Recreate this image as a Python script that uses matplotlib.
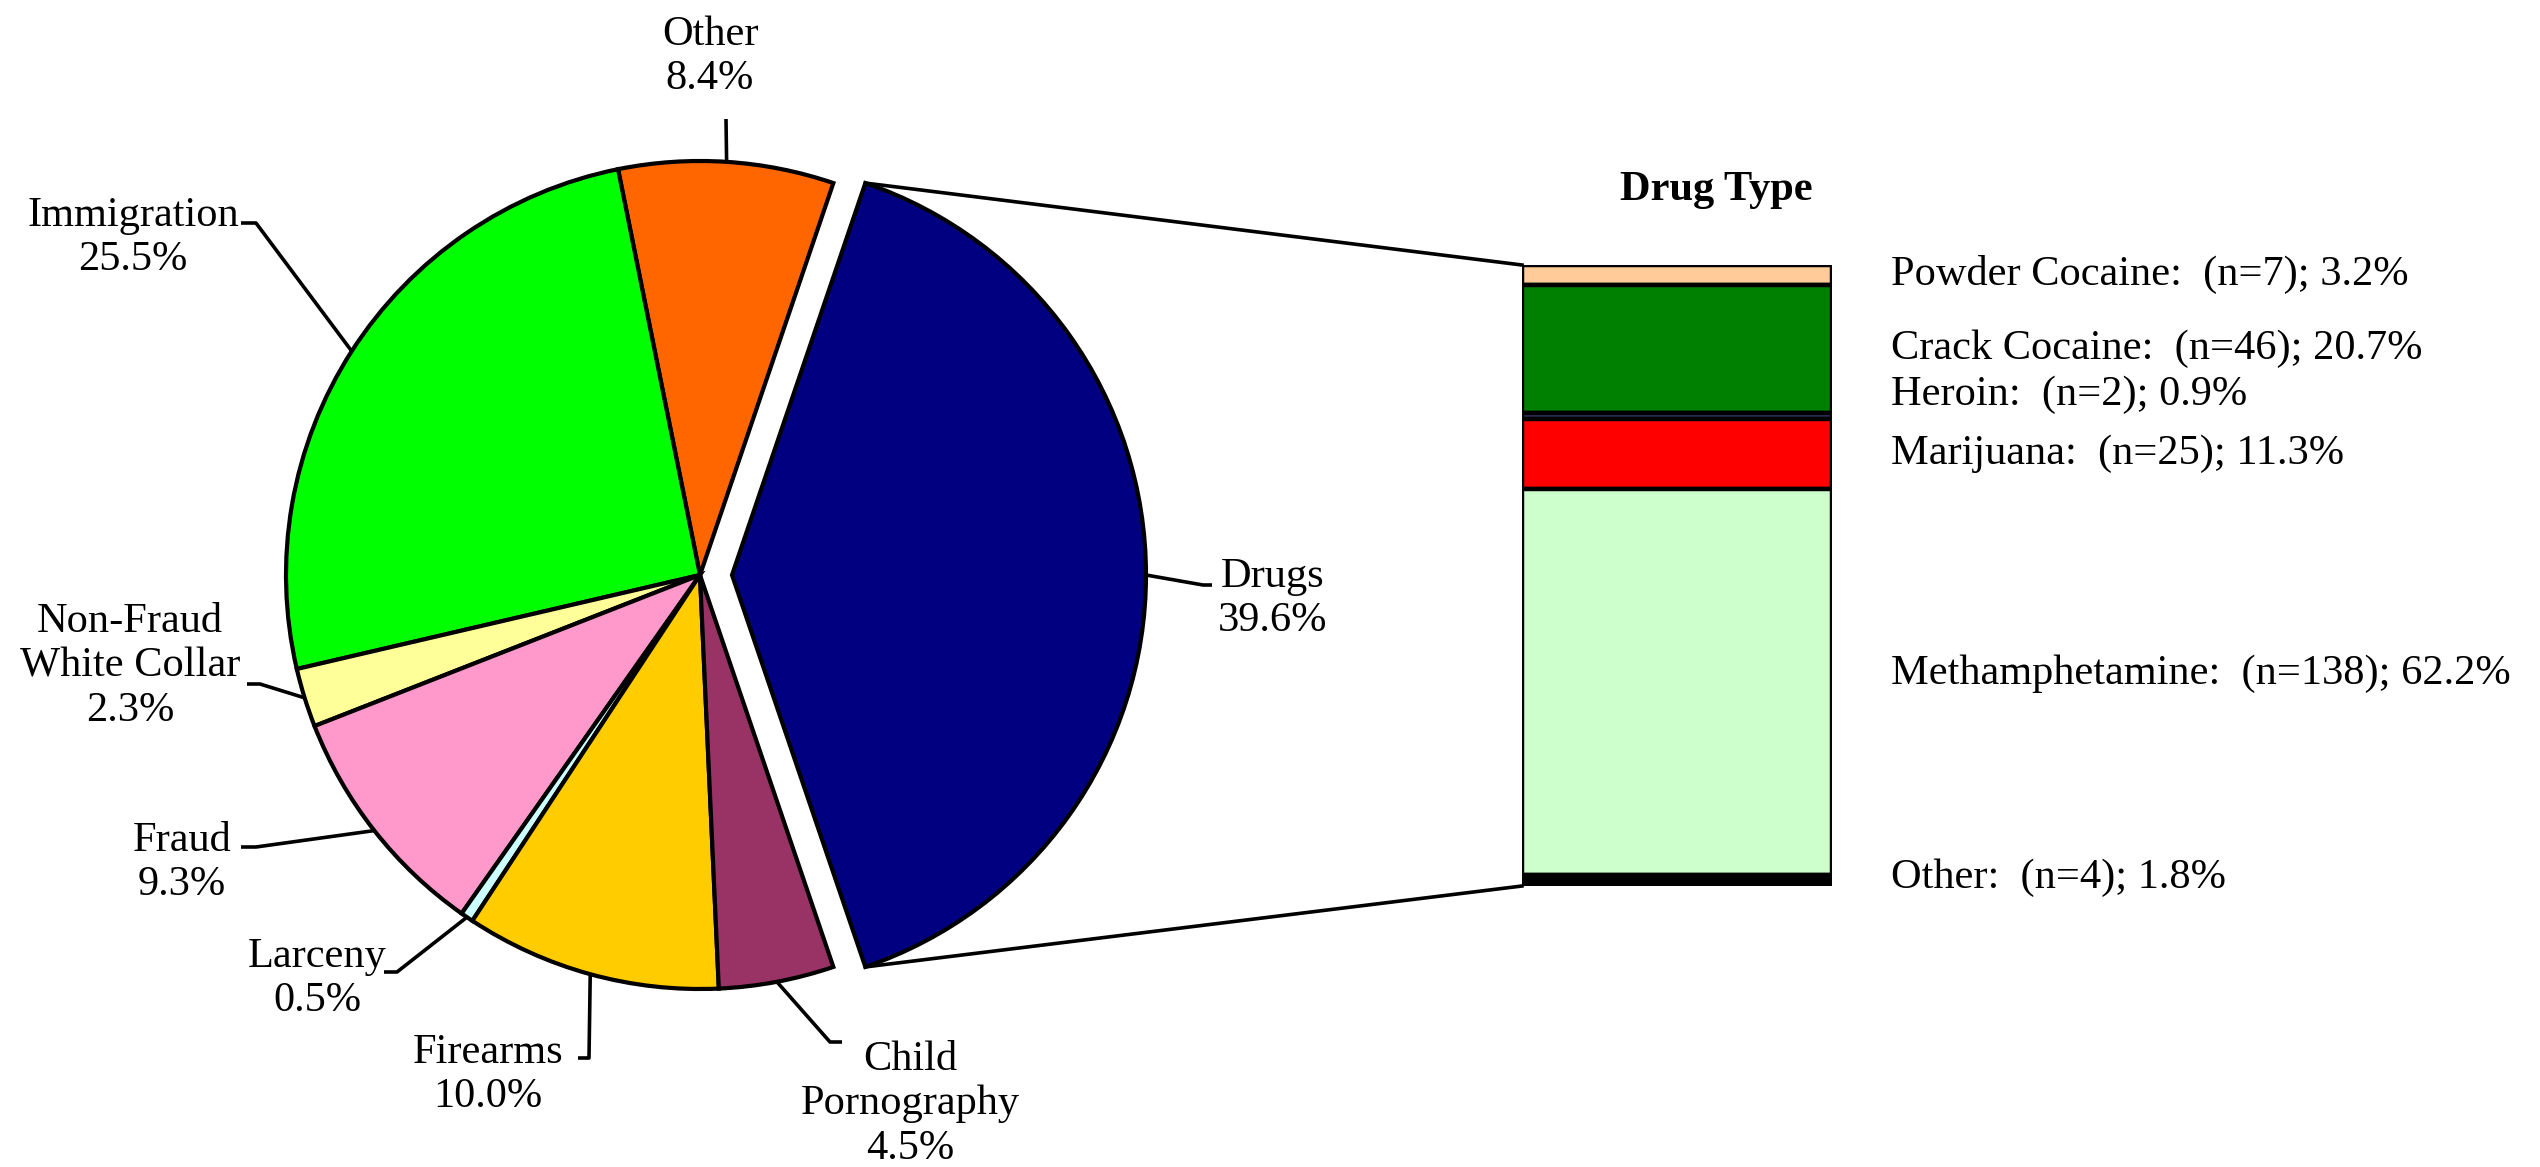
import numpy as np
import matplotlib
matplotlib.use("Agg")
import matplotlib.pyplot as plt
from matplotlib.transforms import blended_transform_factory

W, H = 2540, 1167
plt.rcParams['font.family'] = ['Liberation Serif', 'DejaVu Serif']

# offense type shares (pie)
offense_labels = ["Drugs", "Other", "Immigration", "Non-Fraud\nWhite Collar",
                  "Fraud", "Larceny", "Firearms", "Child\nPornography"]
offense_pct = [39.6, 8.4, 25.5, 2.3, 9.3, 0.5, 10.0, 4.5]
offense_colors = ["#000080", "#FF6600", "#00FF00", "#FFFF99",
                  "#FF99CC", "#CCFFFF", "#FFCC00", "#993366"]

# drug type breakdown (stacked bar, listed top to bottom)
drug_labels = ["Powder Cocaine", "Crack Cocaine", "Heroin", "Marijuana",
               "Methamphetamine", "Other"]
drug_n = [7, 46, 2, 25, 138, 4]
drug_pct = [3.2, 20.7, 0.9, 11.3, 62.2, 1.8]
drug_colors = ["#FFCC99", "#008000", "#333366", "#FF0000", "#CCFFCC", "#000000"]

# layout in pixel coords measured from the top of the picture
PIE_C = (700, 575)
PIE_R = 414
EXPLODE_PX = 32
leader = {
    "Drugs": ((1203, 585), (1212, 585), (1218, 599), "left"),
    "Other": ((726, 119), (726, 119), (710, 57), "center"),
    "Immigration": ((256, 223), (241, 223), (133, 238), "center"),
    "Non-Fraud\nWhite Collar": ((260, 684), (247, 684), (130, 666), "center"),
    "Fraud": ((256, 847), (241, 847), (182, 863), "center"),
    "Larceny": ((397, 972), (384, 972), (317, 979), "center"),
    "Firearms": ((589, 1058), (578, 1058), (488, 1075), "center"),
    "Child\nPornography": ((830, 1042), (842, 1042), (910, 1104), "center"),
}
BAR_BOX = (1522, 265, 1832, 886)  # left, top, right, bottom
TITLE_XY = (1716, 190)
FS = 30.5


def up(y):
    return H - y


fig = plt.figure(figsize=(W / 100, H / 100), dpi=100)
ax = fig.add_axes([0, 0, 1, 1])

explode = [EXPLODE_PX] + [0] * (len(offense_pct) - 1)
start = -offense_pct[0] / sum(offense_pct) * 360 / 2
wedges, _ = ax.pie(offense_pct, colors=offense_colors, explode=explode,
                   startangle=start, counterclock=True,
                   center=(PIE_C[0], up(PIE_C[1])), radius=PIE_R,
                   wedgeprops=dict(edgecolor="black", linewidth=3,
                                   joinstyle="miter"))
ax.set_aspect("auto")
ax.set_xlim(0, W)
ax.set_ylim(0, H)
ax.axis("off")

# labels with elbow leader lines
for w, lab, pct in zip(wedges, offense_labels, offense_pct):
    mid = np.deg2rad((w.theta1 + w.theta2) / 2)
    cx, cy = w.center
    edge = (cx + w.r * np.cos(mid), cy + w.r * np.sin(mid))
    elbow, end, txy, ha = leader[lab]
    ax.plot([edge[0], elbow[0], end[0]], [edge[1], up(elbow[1]), up(end[1])],
            color="black", lw=2.6, solid_capstyle="butt", zorder=0)
    ax.text(txy[0], up(txy[1]), f"{lab}\n{pct:.1f}%", ha=ha, va="center",
            multialignment="center", fontsize=FS)

# stacked bar for drug type
l, t, r, b = BAR_BOX
bax = fig.add_axes([l / W, (H - b) / H, (r - l) / W, (b - t) / H])
total = sum(drug_pct)
tops = total - np.cumsum([0] + drug_pct[:-1])
bottoms = tops - np.array(drug_pct)
bax.bar([0] * len(drug_pct), drug_pct, bottom=bottoms, width=1.0,
        color=drug_colors, edgecolor="black", linewidth=3.2)
bax.set_xlim(-0.5, 0.5)
bax.set_ylim(0, total)
bax.axis("off")

tr = blended_transform_factory(bax.transAxes, bax.transData)
label_shift = {"Heroin": 15, "Methamphetamine": 6, "Other": 2}
for lab, n, pct, bot in zip(drug_labels, drug_n, drug_pct, bottoms):
    yc = bot + pct / 2
    bax.annotate(f"{lab}:  (n={n}); {pct:.1f}%", xy=(1.19, yc), xycoords=tr,
                 xytext=(0, label_shift.get(lab, 0)), textcoords="offset points",
                 ha="left", va="center", fontsize=FS, annotation_clip=False)

ax.text(TITLE_XY[0], up(TITLE_XY[1]), "Drug Type", ha="center", va="center",
        fontsize=FS, fontweight="bold")

# connector lines from the exploded slice to the bar
dw = wedges[0]
cx, cy = dw.center
for ang, yb in [(dw.theta2, t), (dw.theta1, b)]:
    a = np.deg2rad(ang)
    ax.plot([cx + dw.r * np.cos(a), l], [cy + dw.r * np.sin(a), up(yb)],
            color="black", lw=2.6)

fig.savefig("out.png", dpi=100)
